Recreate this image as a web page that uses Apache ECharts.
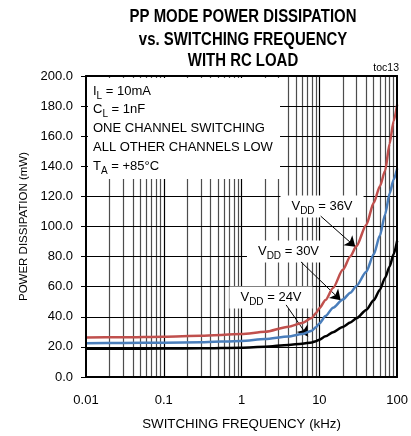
<!DOCTYPE html>
<html><head><meta charset="utf-8">
<script src="https://cdn.jsdelivr.net/npm/echarts@6/dist/echarts.min.js"></script>
<style>html,body{margin:0;padding:0;background:#fff}#c{width:411px;height:436px}</style>
</head><body><div id="c"></div>
<script>
// ---- data ----
const freqKHz = [0.01, 0.03, 0.1, 0.3, 1, 2, 4, 6, 8, 9, 10, 12, 15, 20, 25, 30, 40, 50, 60, 70, 80, 90, 100];
const vdd36 = [26.2, 26.4, 26.8, 27.4, 28.5, 30.0, 33.4, 35.8, 39.2, 42.3, 45.7, 51.2, 59.2, 71.2, 80.1, 87.0, 101.0, 115.7, 126.8, 137.0, 155.0, 170.0, 181.0];
const vdd30 = [22.5, 22.6, 22.8, 23.1, 24.0, 25.2, 26.9, 28.5, 30.8, 33.0, 35.6, 40.5, 46.0, 51.5, 56.0, 60.5, 70.0, 81.5, 94.0, 108.0, 122.0, 131.0, 138.5];
const vdd24 = [18.8, 18.8, 18.9, 19.1, 19.5, 20.1, 21.3, 22.1, 23.0, 23.8, 24.8, 27.0, 29.8, 33.3, 36.2, 39.0, 44.6, 51.0, 58.0, 66.0, 73.5, 81.5, 90.5];
const xTickLabels = ['0.01', '0.1', '1', '10', '100'];
const yTicks = [0, 20, 40, 60, 80, 100, 120, 140, 160, 180, 200];
const seriesNames = ['VDD = 36V', 'VDD = 30V', 'VDD = 24V'];
// annotation arrows: [start, tip] in (kHz, mW)
const arrow36 = [[10.4, 106.9], [29, 86.5]];
const arrow30 = [[5.8, 76.5], [18.8, 51.0]];
const arrow24 = [[3.74, 47.9], [7.1, 27]];
const titleLines = ['PP MODE POWER DISSIPATION', 'vs. SWITCHING FREQUENCY', 'WITH RC LOAD'];
const noteLines = ['{n|I}{s|L}{n| = 10mA}', '{n|C}{s|L}{n| = 1nF}', '{n|ONE CHANNEL SWITCHING}', '{n|ALL OTHER CHANNELS LOW}', '{n|T}{s|A}{n| = +85°C}'];

// ---- helpers ----
const FF = '"Liberation Sans", Arial, Helvetica, sans-serif';
const zip = (xs, ys) => xs.map((x, i) => [x, ys[i]]);
const richStyles = {
  n: {fontSize: 13, fontFamily: FF, fill: '#000', color: '#000'},
  s: {fontSize: 10, fontFamily: FF, fill: '#000', color: '#000', padding: [10, 0, 0, 0]}
};

// gridlines derived from the log axis structure
const vGridMinor = [], vGridMajor = [];
for (let k = -2; k <= 1; k++) {
  for (let m = 2; m <= 9; m++) vGridMinor.push(m * Math.pow(10, k));
  if (k > -2) vGridMajor.push(Math.pow(10, k));
}
const hGrid = yTicks.slice(1, -1);

function arrowLine(a) {
  return {
    silent: true, z: 5, symbol: ['none', 'arrow'], symbolSize: 10,
    label: {show: false},
    lineStyle: {color: '#000', width: 1, type: 'solid'},
    data: [[{coord: a[0]}, {coord: a[1]}]]
  };
}

function richText(x, y, str, align, bg) {
  const st = {text: str, rich: richStyles, fill: '#000', fontFamily: FF, fontSize: 13,
              align: align, textAlign: align, verticalAlign: 'middle', textVerticalAlign: 'middle'};
  if (bg) { st.backgroundColor = '#fff'; st.padding = [1, 11, 1, 11]; }
  return {type: 'text', z: 4, x: x, y: y, style: st};
}

const graphics = [];
titleLines.forEach((t, i) => {
  graphics.push({type: 'text', z: 4, x: 243, y: [17.5, 40, 61.5][i], scaleX: 0.83,
    style: {text: t, x: 0, y: 0, fill: '#000', fontFamily: FF, fontSize: 18, fontWeight: 'bold',
            align: 'center', textAlign: 'center', verticalAlign: 'middle', textVerticalAlign: 'middle'}});
});
graphics.push({type: 'text', z: 4, x: 399, y: 68.5,
  style: {text: 'toc13', fill: '#000', fontFamily: FF, fontSize: 10.5,
  align: 'right', textAlign: 'right', verticalAlign: 'middle', textVerticalAlign: 'middle'}});
graphics.push({type: 'rect', z: 3, shape: {x: 88, y: 78, width: 192, height: 101}, style: {fill: '#fff'}});
const noteY = [91.5, 109.5, 128.5, 147.5, 166];
noteLines.forEach((t, i) => graphics.push(richText(93, noteY[i], t, 'left', false)));
graphics.push(richText(322, 206.5, '{n|V}{s|DD}{n| = 36V}', 'center', true));
graphics.push(richText(288.5, 251.5, '{n|V}{s|DD}{n| = 30V}', 'center', true));
graphics.push(richText(271, 297.5, '{n|V}{s|DD}{n| = 24V}', 'center', true));

const chart = echarts.init(document.getElementById('c'), null, {renderer: 'canvas'});
const axisBase = {
  type: 'log', logBase: 10, min: 0.01, max: 100, z: 6,
  axisLine: {show: true, onZero: false, lineStyle: {color: '#000', width: 2}},
  axisTick: {show: false}, splitLine: {show: false}, minorTick: {show: false}, minorSplitLine: {show: false}
};
const curveBase = {type: 'line', symbol: 'none', smooth: 0.25, smoothMonotone: 'x', z: 5};
chart.setOption({
  animation: false,
  backgroundColor: '#fff',
  grid: {left: 86, right: 11, top: 76, bottom: 55, containLabel: false},
  xAxis: [
    Object.assign({}, axisBase, {
      position: 'bottom',
      axisLabel: {color: '#000', fontFamily: FF, fontSize: 13, margin: 17,
        formatter: v => xTickLabels[Math.round(Math.log10(v)) + 2]},
      name: 'SWITCHING FREQUENCY (kHz)', nameLocation: 'middle', nameGap: 41,
      nameTextStyle: {color: '#000', fontFamily: FF, fontSize: 13.3}
    }),
    Object.assign({}, axisBase, {position: 'top', axisLabel: {show: false}})
  ],
  yAxis: [
    {type: 'value', min: 0, max: 200, interval: 20, position: 'left', z: 6,
     axisLine: {show: true, onZero: false, lineStyle: {color: '#000', width: 2}},
     axisTick: {show: true, inside: false, length: 5, lineStyle: {color: '#000', width: 1}},
     splitLine: {show: false},
     axisLabel: {color: '#000', fontFamily: FF, fontSize: 13, margin: 13, formatter: v => v.toFixed(1)},
     name: 'POWER DISSIPATION (mW)', nameLocation: 'middle', nameGap: 53,
     nameTextStyle: {color: '#000', fontFamily: FF, fontSize: 11.5}},
    {type: 'value', min: 0, max: 200, interval: 20, position: 'right', z: 6,
     axisLine: {show: true, onZero: false, lineStyle: {color: '#000', width: 2}},
     axisTick: {show: false}, axisLabel: {show: false}, splitLine: {show: false}}
  ],
  graphic: {elements: graphics},
  series: [
    {type: 'line', name: 'grid', data: [], z: 1, silent: true,
     markLine: {silent: true, z: 1, symbol: 'none', label: {show: false}, animation: false,
       data: [].concat(
         vGridMinor.map(v => ({xAxis: v, lineStyle: {color: '#4d4d4d', width: 1.2, type: 'solid'}})),
         vGridMajor.map(v => ({xAxis: v, lineStyle: {color: '#000', width: 1.2, type: 'solid'}})),
         hGrid.map(v => ({yAxis: v, lineStyle: {color: '#000', width: 1.2, type: 'solid'}}))
       )}},
    Object.assign({}, curveBase, {name: seriesNames[0], data: zip(freqKHz, vdd36),
     lineStyle: {color: '#c0504d', width: 2.5}, markLine: arrowLine(arrow36)}),
    Object.assign({}, curveBase, {name: seriesNames[1], data: zip(freqKHz, vdd30),
     lineStyle: {color: '#4a7ebb', width: 2.5}, markLine: arrowLine(arrow30)}),
    Object.assign({}, curveBase, {name: seriesNames[2], data: zip(freqKHz, vdd24),
     lineStyle: {color: '#000', width: 2.5}, markLine: arrowLine(arrow24)})
  ]
});
</script></body></html>
